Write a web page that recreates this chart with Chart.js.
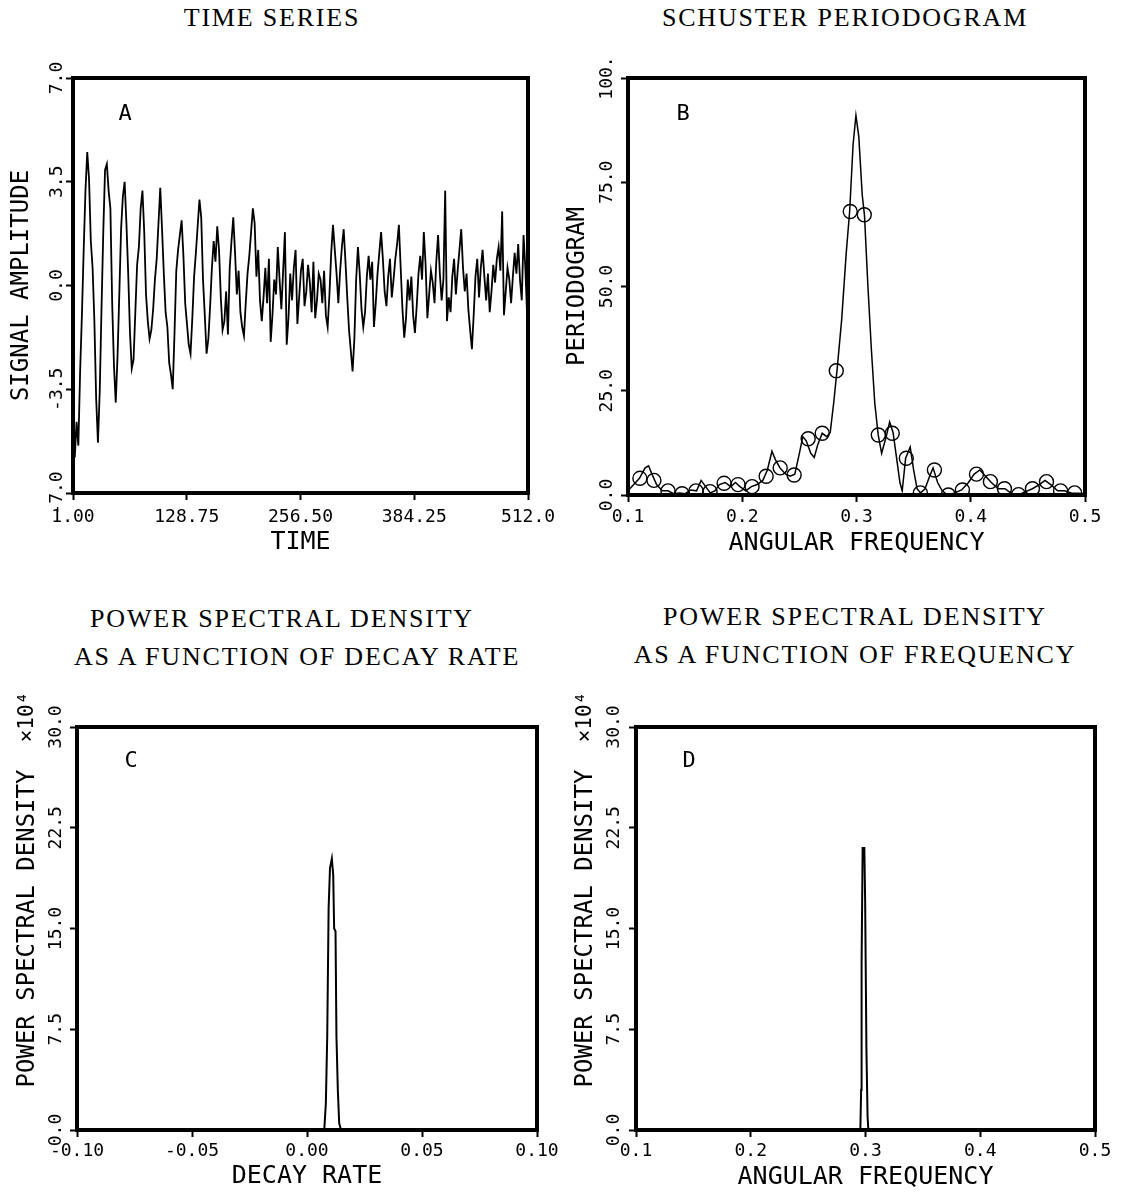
<!DOCTYPE html>
<html>
<head>
<meta charset="utf-8">
<script src="https://cdn.jsdelivr.net/npm/chart.js@4.4.1/dist/chart.umd.min.js"></script>
<style>
  body { margin: 0; background: #fff; width: 1121px; height: 1192px; position: relative; overflow: hidden; }
  .ttl { position: absolute; font-family: "Liberation Serif", serif; font-size: 26px; line-height: 26px;
         letter-spacing: 1.8px; color: #000; white-space: nowrap; transform: translateX(-50%); }
  .tag { position: absolute; font-family: "DejaVu Sans Mono", monospace; font-size: 22px; line-height: 22px;
         color: #000; transform: translate(-50%, -50%); }
  .box { position: absolute; }
</style>
</head>
<body>
<div class="ttl" style="left:272px; top:5px;">TIME SERIES</div>
<div class="ttl" style="left:845px; top:5px;">SCHUSTER PERIODOGRAM</div>
<div class="ttl" style="left:282px; top:606px;">POWER SPECTRAL DENSITY</div>
<div class="ttl" style="left:297px; top:644px;">AS A FUNCTION OF DECAY RATE</div>
<div class="ttl" style="left:855px; top:604px;">POWER SPECTRAL DENSITY</div>
<div class="ttl" style="left:855px; top:642px;">AS A FUNCTION OF FREQUENCY</div>

<div class="box" style="left:0px; top:50px;"><canvas id="chartA" width="560" height="520"></canvas></div>
<div class="box" style="left:560px; top:50px;"><canvas id="chartB" width="561" height="520"></canvas></div>
<div class="box" style="left:0px; top:690px;"><canvas id="chartC" width="560" height="502"></canvas></div>
<div class="box" style="left:560px; top:690px;"><canvas id="chartD" width="561" height="502"></canvas></div>

<div class="tag" style="left:125px; top:113px;">A</div>
<div class="tag" style="left:683px; top:113px;">B</div>
<div class="tag" style="left:131px; top:760px;">C</div>
<div class="tag" style="left:689px; top:760px;">D</div>

<script>
// ---- A: time series, one reading every 2 samples starting at t = 1
const timeStep = 2;
const timeValues = [
  -3.2, -5.8, -4.6, -5.4, -2.9, -1.0, 1.2, 3.2, 4.5, 3.6,
  1.5, 0.6, -1.2, -3.8, -5.3, -3.6, -0.8, 1.8, 3.9, 4.1,
  3.2, 2.6, -0.6, -2.7, -3.95, -2.4, -0.3, 1.9, 3.0, 3.5,
  2.1, 0.4, -1.6, -2.8, -2.5, -0.9, 0.7, 1.3, 2.6, 3.2,
  1.8, -0.3, -1.2, -1.8, -1.5, -0.8, 0.2, 0.9, 2.1, 3.3,
  1.9, 0.4, -0.9, -1.4, -2.6, -3.0, -3.5, -1.6, 0.5, 1.2,
  1.7, 2.2, 1.0, -0.6, -1.3, -2.0, -2.3, -1.1, 0.3, 1.1,
  2.0, 2.9, 2.3, 0.2, -1.0, -2.3, -1.8, -0.7, 0.6, 1.5,
  0.8, 2.0, 1.2, -0.4, -1.5, -1.2, -0.2, -1.65, 0.6, 1.5,
  2.3, 1.1, -0.3, 0.5, -0.9, -1.4, -1.7, -0.6, 0.4, 1.0,
  1.8, 2.6, 2.1, 0.3, 1.2, -0.5, -1.2, -0.4, 0.6, -0.6,
  0.9, -1.9, -1.0, 0.2, -0.3, 1.3, 0.2, -0.8, 0.5, 1.8,
  -2.0, -1.1, 0.4, -0.5, 0.6, 1.2, -1.3, -0.4, 0.5, 0.9,
  -0.7, -0.2, 0.7, 0.1, -0.9, 0.8, -1.1, -0.5, 0.4, 0.2,
  -0.6, 0.5, -1.0, -1.4, -0.3, 1.1, 2.05, 1.2, 0.4, -0.6,
  0.5, 1.3, 1.9, 0.8, -0.4, -1.5, -2.2, -2.9, -1.8, 0.2,
  1.3, 0.4, -0.8, -1.4, -0.9, 0.3, 1.0, 0.2, 0.8, -1.4,
  -0.6, 0.4, 1.1, 1.8, 0.9, -0.2, -0.7, 0.3, 0.9, -0.4,
  0.2, 0.9, 1.4, 2.05, 0.6, -0.8, -1.76, -1.1, 0.2, -0.5,
  0.3, -1.0, -1.6, -0.7, 0.4, 1.0, 0.2, 1.8, 0.7, -1.1,
  -0.3, 0.5, 0.1, -0.6, 0.8, 1.7, 0.4, -0.5, 0.2, 3.2,
  -1.2, -0.4, -0.9, 0.3, 0.9, -0.3, 0.5, 1.2, 1.9, 0.6,
  -0.2, 0.4, -0.8, -1.5, -2.15, -1.0, 0.3, 0.9, -0.4, 0.6,
  1.2, 0.3, -0.5, 0.4, -0.9, -0.2, 0.7, 0.1, 0.9, 1.3,
  0.5, 2.5, -1.0, -0.2, 0.6, 0.2, -0.6, 0.3, 1.1, 0.4,
  1.4, 0.2, -0.5, 1.7, 0.6, -1.0
];
const timeTicks = [1, 128.75, 256.5, 384.25, 512];
const timeTickLabels = ['1.00', '128.75', '256.50', '384.25', '512.0'];
const ampTicks = [-7, -3.5, 0, 3.5, 7];
const ampTickLabels = ['-7.0', '-3.5', '0.0', '3.5', '7.0'];

// ---- B: periodogram (fine curve) and values at the Fourier frequencies (circles)
const pgFreq = [
  0.100, 0.105, 0.110, 0.115, 0.118, 0.121, 0.125, 0.130, 0.135, 0.140,
  0.145, 0.150, 0.155, 0.160, 0.164, 0.168, 0.172, 0.176, 0.180, 0.185,
  0.190, 0.194, 0.198, 0.203, 0.208, 0.213, 0.218, 0.222, 0.226, 0.229,
  0.233, 0.238, 0.242, 0.246, 0.250, 0.253, 0.256, 0.260, 0.263, 0.266,
  0.270, 0.274, 0.277, 0.280, 0.283, 0.287, 0.291, 0.294, 0.297, 0.2995,
  0.302, 0.305, 0.307, 0.310, 0.313, 0.316, 0.319, 0.322, 0.326, 0.329,
  0.332, 0.335, 0.338, 0.340, 0.343, 0.347, 0.350, 0.353, 0.356, 0.360,
  0.364, 0.367, 0.371, 0.375, 0.380, 0.386, 0.392, 0.398, 0.403, 0.408,
  0.413, 0.418, 0.424, 0.430, 0.436, 0.442, 0.448, 0.454, 0.460, 0.465,
  0.470, 0.476, 0.482, 0.488, 0.494, 0.500
];
const pgValue = [
  1.0, 2.5, 4.0, 6.5, 7.0, 5.0, 2.5, 1.0, 1.0, 0.3,
  0.5, 0.3, 1.2, 1.0, 3.5, 2.0, 0.5, 1.0, 2.5, 3.0,
  2.0, 3.0, 2.0, 1.0, 2.0, 2.5, 3.5, 6.0, 10.5, 8.5,
  6.5, 5.0, 4.5, 5.0, 10.0, 14.0, 13.0, 10.0, 9.0, 12.0,
  14.8, 14.0, 15.0, 22.0, 30.0, 42.0, 58.0, 68.0, 84.0, 91.0,
  86.0, 72.0, 67.0, 50.0, 35.0, 22.0, 14.4, 10.0, 14.0, 17.5,
  15.0, 9.0, 3.0, 1.0, 8.8, 11.5, 6.0, 1.5, 0.5, 1.5,
  4.5, 6.5, 3.0, 1.0, 0.0, 0.5, 1.2, 3.0, 5.0, 6.0,
  4.5, 3.0, 1.5, 1.5, 0.3, 0.1, 0.8, 1.5, 2.5, 3.5,
  2.5, 1.0, 1.0, 0.5, 0.4, 0.3
];
const fourierFreq = [
  0.1104, 0.1227, 0.1350, 0.1473, 0.1595, 0.1718, 0.1841, 0.1963,
  0.2086, 0.2209, 0.2332, 0.2454, 0.2577, 0.2700, 0.2823, 0.2945,
  0.3068, 0.3191, 0.3313, 0.3436, 0.3559, 0.3682, 0.3804, 0.3927,
  0.4050, 0.4172, 0.4295, 0.4418, 0.4540, 0.4663, 0.4786, 0.4909
];
const fourierValue = [
  4.0, 3.5, 1.0, 0.3, 1.0, 0.8, 2.8, 2.5,
  2.0, 4.5, 6.5, 4.8, 13.5, 14.8, 29.8, 68.0,
  67.2, 14.4, 14.8, 8.8, 0.5, 6.0, 0.0, 1.2,
  5.0, 3.2, 1.5, 0.1, 1.5, 3.2, 1.0, 0.5
];
const freqTicks = [0.1, 0.2, 0.3, 0.4, 0.5];
const freqTickLabels = ['0.1', '0.2', '0.3', '0.4', '0.5'];
const pgTicks = [0, 25, 50, 75, 100];
const pgTickLabels = ['0.0', '25.0', '50.0', '75.0', '100.'];

// ---- C: PSD against decay rate (units of 10^4)
const decayRate = [-0.100, 0.0075, 0.0082, 0.0088, 0.0094, 0.0100, 0.0108, 0.0114,
                   0.0118, 0.0124, 0.0128, 0.0134, 0.0140, 0.0148, 0.100];
const psdDecay = [0, 0, 2.0, 7.0, 16.5, 19.5, 20.2, 19.0, 15.0, 14.8, 7.0, 3.0, 0.5, 0, 0];
const decayTicks = [-0.1, -0.05, 0, 0.05, 0.1];
const decayTickLabels = ['-0.10', '-0.05', '0.00', '0.05', '0.10'];

// ---- D: PSD against angular frequency (units of 10^4)
const psdFreq = [0.100, 0.2955, 0.2962, 0.2966, 0.2975, 0.2990, 0.2997, 0.3008, 0.3018, 0.3025, 0.500];
const psdFreqValue = [0, 0, 3.0, 12.5, 21.0, 21.0, 17.0, 6.0, 1.0, 0, 0];
const psdTicks = [0, 7.5, 15, 22.5, 30];
const psdTickLabels = ['0.0', '7.5', '15.0', '22.5', '30.0'];

// ---------------------------------------------------------------
const tickFont = { family: 'DejaVu Sans Mono', size: 18 };
const yTitleFont = { family: 'DejaVu Sans Mono', size: 24 };
const xTitleFont = { family: 'DejaVu Sans Mono', size: 25 };
const tickLen = 7;
const lh = f => f.size * 1.2;

const measurer = document.createElement('canvas').getContext('2d');
function widest(labels) {
  measurer.font = tickFont.size + 'px "' + tickFont.family + '"';
  return Math.max(...labels.map(l => measurer.measureText(l).width));
}

const framePlugin = {
  id: 'frame',
  afterDraw(chart, args, opts) {
    const { left, top, right, bottom } = chart.chartArea;
    const ctx = chart.ctx;
    ctx.save();
    ctx.strokeStyle = '#000';
    ctx.lineWidth = 4;
    ctx.strokeRect(left, top, right - left, bottom - top);
    if (opts.multiplier) {
      ctx.translate(opts.multX, top - 10);
      ctx.rotate(-Math.PI / 2);
      ctx.font = '21px "DejaVu Sans Mono"';
      ctx.fillStyle = '#000';
      ctx.textAlign = 'center';
      ctx.textBaseline = 'middle';
      ctx.fillText(opts.multiplier, 0, 0);
    }
    ctx.restore();
  }
};

function panel(id, g, x, y, datasets, multiplier) {
  const yWidth = g.area.l - g.left;
  const xHeight = g.top + g.h - g.area.b;
  return new Chart(document.getElementById(id), {
    type: 'line',
    data: { datasets },
    options: {
      animation: false,
      responsive: false,
      events: [],
      layout: { padding: { left: 0, bottom: 0, top: g.area.t - g.top, right: g.left + g.w - g.area.r } },
      plugins: {
        legend: { display: false },
        tooltip: { enabled: false },
        frame: { multiplier: multiplier, multX: g.yTitleX - g.left }
      },
      scales: {
        x: {
          type: 'linear',
          min: x.ticks[0],
          max: x.ticks[x.ticks.length - 1],
          afterBuildTicks: s => { s.ticks = x.ticks.map(v => ({ value: v })); },
          afterFit: s => { s.height = xHeight; s.paddingLeft = 0; s.paddingRight = 0; },
          ticks: {
            autoSkip: false, minRotation: 0, maxRotation: 0,
            font: tickFont, color: '#000',
            padding: g.xTickY - g.area.b - tickLen - lh(tickFont) / 2,
            callback: (v, i) => x.labels[i]
          },
          grid: { display: true, drawOnChartArea: false, drawTicks: true, tickLength: tickLen, tickWidth: 2, tickColor: '#000' },
          border: { display: false },
          title: {
            display: true, text: x.title, font: xTitleFont, color: '#000',
            padding: { top: 0, bottom: g.top + g.h - g.xTitleY - lh(xTitleFont) / 2 }
          }
        },
        y: {
          type: 'linear',
          min: y.ticks[0],
          max: y.ticks[y.ticks.length - 1],
          afterBuildTicks: s => { s.ticks = y.ticks.map(v => ({ value: v })); },
          afterFit: s => { s.width = yWidth; s.paddingTop = 0; s.paddingBottom = 0; },
          ticks: {
            autoSkip: false, minRotation: 90, maxRotation: 90, crossAlign: 'center',
            font: tickFont, color: '#000',
            padding: g.area.l - tickLen - widest(y.labels) / 2 - g.yTickX,
            callback: (v, i) => y.labels[i]
          },
          grid: { display: true, drawOnChartArea: false, drawTicks: true, tickLength: tickLen, tickWidth: 2, tickColor: '#000' },
          border: { display: false },
          title: {
            display: true, text: y.title, font: yTitleFont, color: '#000',
            padding: { top: g.yTitleX - g.left - lh(yTitleFont) / 2, bottom: 0 }
          }
        }
      }
    },
    plugins: [framePlugin]
  });
}

const lineStyle = { borderColor: '#000', borderWidth: 1.5, pointRadius: 0, tension: 0, fill: false };

panel('chartA',
  { left: 0, top: 50, w: 560, h: 520, area: { l: 73, r: 528, t: 78, b: 493 }, yTickX: 57, yTitleX: 22, xTickY: 517, xTitleY: 542 },
  { ticks: timeTicks, labels: timeTickLabels, title: 'TIME' },
  { ticks: ampTicks, labels: ampTickLabels, title: 'SIGNAL AMPLITUDE' },
  [{ ...lineStyle, borderWidth: 1.8, data: timeValues.map((v, i) => ({ x: 1 + i * timeStep, y: v })) }]
);

panel('chartB',
  { left: 560, top: 50, w: 561, h: 520, area: { l: 628, r: 1085, t: 78, b: 495 }, yTickX: 607, yTitleX: 578, xTickY: 517, xTitleY: 543 },
  { ticks: freqTicks, labels: freqTickLabels, title: 'ANGULAR FREQUENCY' },
  { ticks: pgTicks, labels: pgTickLabels, title: 'PERIODOGRAM' },
  [
    { ...lineStyle, data: pgFreq.map((f, i) => ({ x: f, y: pgValue[i] })) },
    { data: fourierFreq.map((f, i) => ({ x: f, y: fourierValue[i] })), showLine: false,
      pointRadius: 7, pointStyle: 'circle', pointBorderColor: '#000', pointBackgroundColor: 'rgba(0,0,0,0)', pointBorderWidth: 1.4 }
  ]
);

panel('chartC',
  { left: 0, top: 690, w: 560, h: 502, area: { l: 77, r: 537, t: 727, b: 1130 }, yTickX: 56, yTitleX: 28, xTickY: 1151, xTitleY: 1176 },
  { ticks: decayTicks, labels: decayTickLabels, title: 'DECAY RATE' },
  { ticks: psdTicks, labels: psdTickLabels, title: 'POWER SPECTRAL DENSITY' },
  [{ ...lineStyle, borderWidth: 2, data: decayRate.map((d, i) => ({ x: d, y: psdDecay[i] })) }],
  '\u00d710\u2074'
);

panel('chartD',
  { left: 560, top: 690, w: 561, h: 502, area: { l: 636, r: 1095, t: 727, b: 1130 }, yTickX: 614, yTitleX: 586, xTickY: 1151, xTitleY: 1177 },
  { ticks: freqTicks, labels: freqTickLabels, title: 'ANGULAR FREQUENCY' },
  { ticks: psdTicks, labels: psdTickLabels, title: 'POWER SPECTRAL DENSITY' },
  [{ ...lineStyle, borderWidth: 2, data: psdFreq.map((f, i) => ({ x: f, y: psdFreqValue[i] })) }],
  '\u00d710\u2074'
);
</script>
</body>
</html>
